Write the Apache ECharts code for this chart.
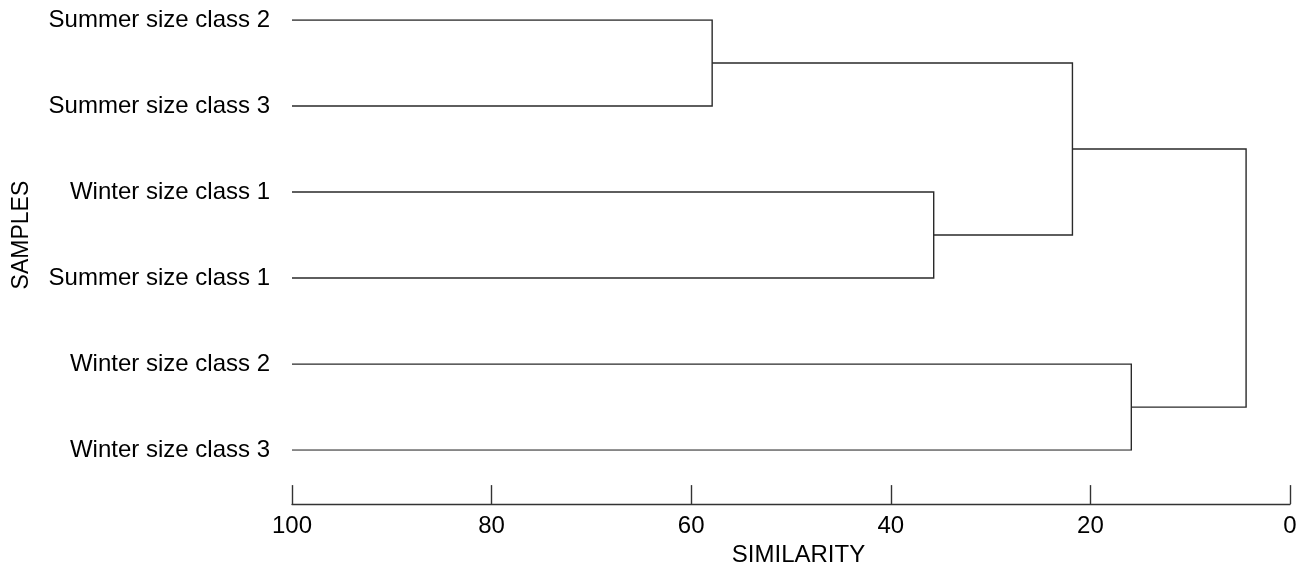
<!DOCTYPE html>
<html>
<head>
<meta charset="utf-8">
<script src="https://cdn.jsdelivr.net/npm/echarts@6/dist/echarts.min.js"></script>
<style>
html,body{margin:0;padding:0;background:#fff;}
#chart{width:1304px;height:572px;}
</style>
</head>
<body>
<div id="chart"></div>
<script>
// Leaves (top to bottom)
var leaves = ['Summer size class 2', 'Summer size class 3', 'Winter size class 1', 'Summer size class 1', 'Winter size class 2', 'Winter size class 3'];
// Merge steps: node ids 0..5 are leaves, each merge creates a new node id (6, 7, ...)
var mergeA = [0, 2, 6, 4, 8];
var mergeB = [1, 3, 7, 5, 9];
var mergeSimilarity = [57.9, 35.7, 21.8, 15.9, 4.4];
// Similarity axis ticks
var simTicks = [100, 80, 60, 40, 20, 0];
var leafSimilarity = 100;

// Build node positions (similarity, row) from the data
var nodeX = [], nodeY = [];
for (var i = 0; i < leaves.length; i++) { nodeX.push(leafSimilarity); nodeY.push(i); }
var segs = [];
for (var m = 0; m < mergeA.length; m++) {
  var a = mergeA[m], b = mergeB[m], h = mergeSimilarity[m];
  segs.push({ coords: [[nodeX[a], nodeY[a]], [h, nodeY[a]], [h, nodeY[b]], [nodeX[b], nodeY[b]]] });
  nodeX.push(h);
  nodeY.push((nodeY[a] + nodeY[b]) / 2);
}

var font = 'Liberation Sans, Arial, sans-serif';
var chart = echarts.init(document.getElementById('chart'), null, { renderer: 'canvas' });
chart.setOption({
  animation: false,
  backgroundColor: '#ffffff',
  grid: { left: 292, right: 14, top: 20, bottom: 118, containLabel: false },
  xAxis: {
    type: 'value', inverse: true, min: simTicks[simTicks.length - 1], max: simTicks[0], interval: 20,
    offset: 54,
    name: 'SIMILARITY', nameLocation: 'middle', nameGap: 38.5,
    nameTextStyle: { fontFamily: font, fontSize: 24, color: '#000', padding: [0, 0, 0, 15] },
    axisLine: { show: true, onZero: false, lineStyle: { color: '#333', width: 1.4 } },
    axisTick: { show: true, inside: true, length: 19, lineStyle: { color: '#333', width: 1.4 } },
    axisLabel: { fontFamily: font, fontSize: 24, color: '#000', margin: 10 },
    splitLine: { show: false }
  },
  yAxis: {
    type: 'value', inverse: true, min: 0, max: leaves.length - 1, interval: 1,
    name: 'SAMPLES', nameLocation: 'middle', nameGap: 259,
    nameTextStyle: { fontFamily: font, fontSize: 23, color: '#000' },
    axisLine: { show: false }, axisTick: { show: false }, splitLine: { show: false },
    axisLabel: {
      fontFamily: font, fontSize: 24, color: '#000', margin: 22,
      formatter: function (v) { return Number.isInteger(v) && leaves[v] ? leaves[v] : ''; }
    }
  },
  series: [{
    type: 'lines', coordinateSystem: 'cartesian2d', polyline: true,
    lineStyle: { color: '#2a2a2a', width: 1.4, opacity: 1 },
    data: segs, silent: true
  }]
});
</script>
</body>
</html>
